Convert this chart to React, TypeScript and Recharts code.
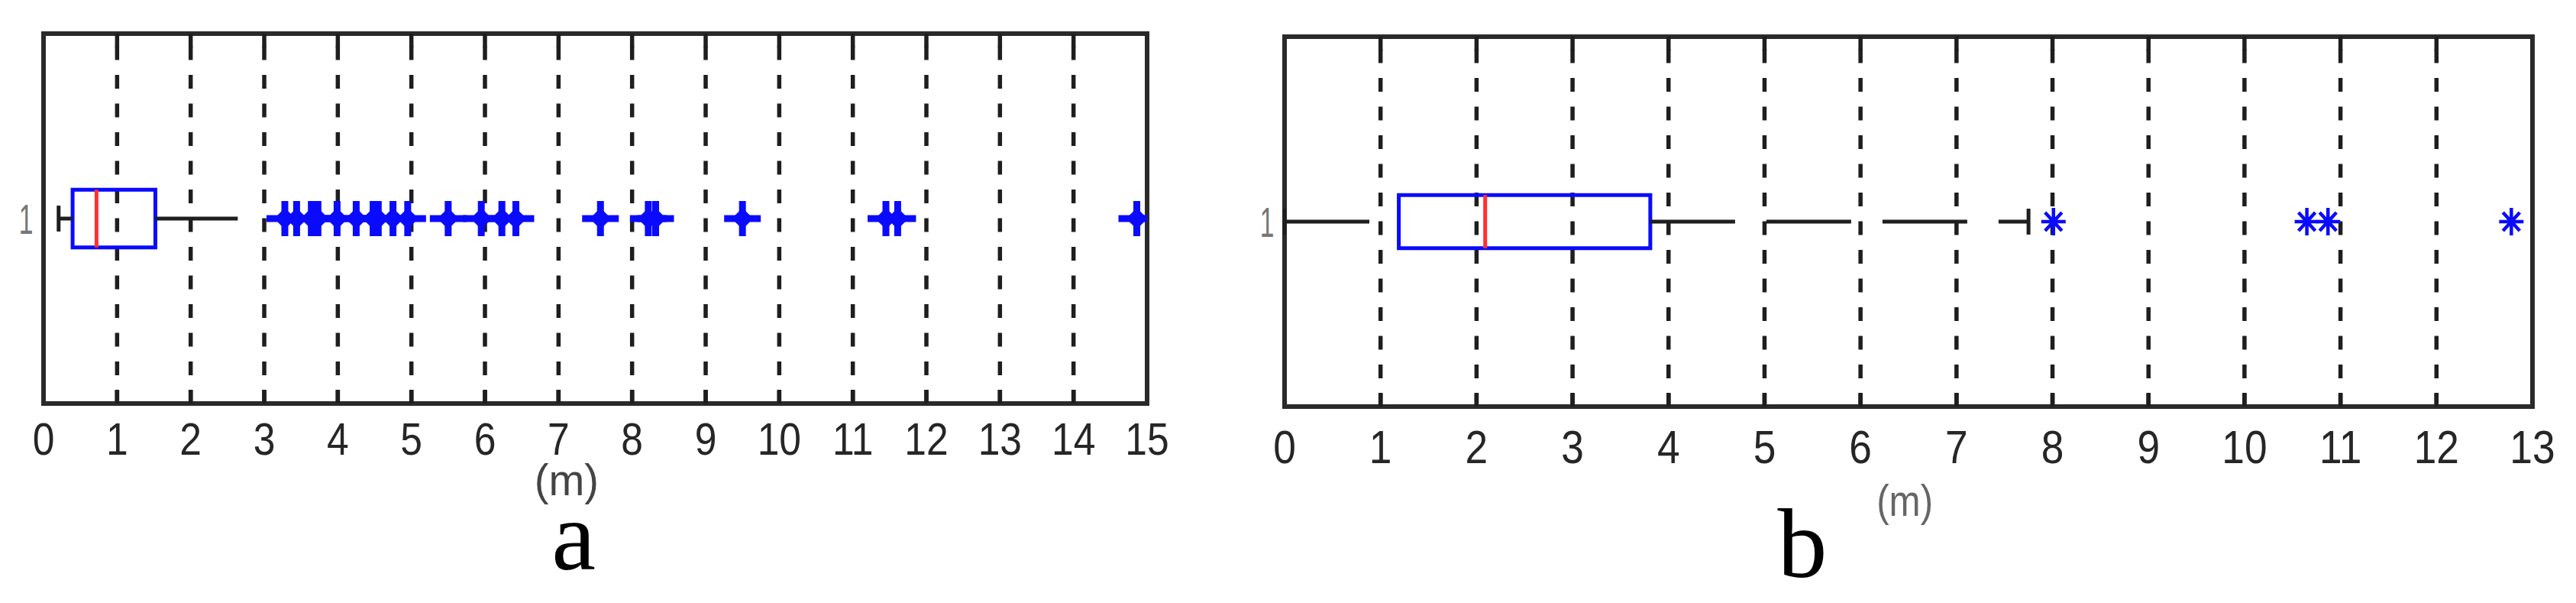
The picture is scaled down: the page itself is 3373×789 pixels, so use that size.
import React from 'react';
import {
  ComposedChart,
  Scatter,
  XAxis,
  YAxis,
  CartesianGrid,
  ReferenceArea,
  ReferenceLine,
} from 'recharts';

// x-axis ticks (metres)
const ticksA = [0, 1, 2, 3, 4, 5, 6, 7, 8, 9, 10, 11, 12, 13, 14, 15];
const ticksB = [0, 1, 2, 3, 4, 5, 6, 7, 8, 9, 10, 11, 12, 13];

// lower whisker, q1, median, q3, upper whisker
const statsA = [0.205, 0.395, 0.72, 1.52, 2.64];
const statsB = [0, 1.19, 2.09, 3.81, 7.75];

// whisker end caps that are visible
const capsA = [0.205];
const capsB = [0, 7.75];

// outliers
const outliersA = [
  3.28, 3.44, 3.64, 3.73, 3.99, 4.25, 4.48, 4.55, 4.75, 4.95,
  5.5, 5.95, 6.23, 6.42, 7.57, 8.22, 8.32, 9.5, 11.45, 11.61, 14.86,
];
const outliersB = [8.01, 10.65, 10.87, 12.78];

const rowTicks = [1];
const panelNames = ['a', 'b'];

const SANS = 'Liberation Sans, Arial, sans-serif';
const SERIF = 'Liberation Serif, Times New Roman, serif';
const BLUE = '#0a0aff';
const INK = '#1e1e1e';

const PlusMarker = (props: any) => {
  const { cx, cy } = props;
  return (
    <g>
      <path
        d={`M${cx - 24},${cy}H${cx + 24}M${cx},${cy - 23}V${cy + 23}`}
        stroke={BLUE}
        strokeWidth={9}
      />
      <path
        d={`M${cx - 14},${cy}L${cx},${cy - 14}L${cx + 14},${cy}L${cx},${cy + 14}Z`}
        fill={BLUE}
      />
    </g>
  );
};

const StarMarker = (props: any) => {
  const { cx, cy } = props;
  return (
    <path
      d={`M${cx - 16},${cy}H${cx + 16}M${cx},${cy - 18}V${cy + 18}M${cx - 11},${cy - 12}L${cx + 11},${cy + 12}M${cx - 11},${cy + 12}L${cx + 11},${cy - 12}`}
      stroke={BLUE}
      strokeWidth={4.5}
    />
  );
};

interface PanelProps {
  left: number;
  width: number;
  axisW: number;
  margin: { top: number; right: number; bottom: number; left: number };
  ticks: number[];
  stats: number[];
  caps: number[];
  outliers: number[];
  marker: (p: any) => React.ReactElement;
  boxHalf: number;
  tickDy: number;
  tickSize: number;
  unitFrac: number;
  unitDy: number;
  unitScale: number;
  unitColor: string;
}

function BoxPanel(p: PanelProps) {
  const [lo, q1, med, q3, hi] = p.stats;
  const xMax = p.ticks[p.ticks.length - 1];
  const points = p.outliers.map((v) => ({ x: v, y: 1 }));
  const plotH = 789 - p.margin.top - p.margin.bottom - 60;
  const tickLen = 18 / plotH;
  const inner = p.ticks.slice(1, -1);

  return (
    <div style={{ position: 'absolute', left: p.left, top: 0 }}>
      <ComposedChart width={p.width} height={789} margin={p.margin}>
        <CartesianGrid
          horizontal={false}
          stroke={INK}
          strokeWidth={5.5}
          strokeDasharray="18 19.5"
          strokeDashoffset={21}
        />
        <XAxis
          type="number"
          dataKey="x"
          domain={[0, xMax]}
          ticks={p.ticks}
          interval={0}
          allowDataOverflow
          axisLine={false}
          tickLine={false}
          tickSize={0}
          tickMargin={0}
          height={60}
          tick={(t: any) => (
            <g transform={`translate(${t.x},${t.y + p.tickDy}) scale(0.86,1)`}>
              <text x={0} y={0} textAnchor="middle" fontSize={p.tickSize} fontFamily={SANS} fill="#262626">
                {t.payload.value}
              </text>
            </g>
          )}
          label={{
            content: (l: any) => {
              const vb = l.viewBox || { x: 0, y: 0, width: 0 };
              const cx = vb.x + vb.width * p.unitFrac;
              return (
                <g transform={`translate(${cx},${vb.y + p.unitDy}) scale(${p.unitScale},1)`}>
                  <text x={0} y={0} textAnchor="middle" fontSize={58} fontFamily={SANS} fill={p.unitColor}>
                    (m)
                  </text>
                </g>
              );
            },
          }}
        />
        <YAxis
          type="number"
          dataKey="y"
          domain={[0.5, 1.5]}
          ticks={rowTicks}
          width={p.axisW}
          axisLine={false}
          tickLine={false}
          tickSize={0}
          tickMargin={0}
          tick={(t: any) => (
            <g transform={`translate(${t.x - 23},${t.y + 20}) scale(0.6,1)`}>
              <text x={0} y={0} textAnchor="middle" fontSize={56} fontFamily={SANS} fill="#777">
                {t.payload.value}
              </text>
            </g>
          )}
        />
        {inner.map((t) => (
          <ReferenceLine
            key={`tt${t}`}
            segment={[{ x: t, y: 1.5 }, { x: t, y: 1.5 - tickLen }]}
            stroke={INK}
            strokeWidth={5.5}
            ifOverflow="visible"
          />
        ))}
        {inner.map((t) => (
          <ReferenceLine
            key={`tb${t}`}
            segment={[{ x: t, y: 0.5 }, { x: t, y: 0.5 + tickLen }]}
            stroke={INK}
            strokeWidth={5.5}
            ifOverflow="visible"
          />
        ))}
        <ReferenceLine
          segment={[{ x: lo, y: 1 }, { x: q1, y: 1 }]}
          stroke={INK}
          strokeWidth={5}
          strokeDasharray="111 41"
          ifOverflow="visible"
        />
        <ReferenceLine
          segment={[{ x: q3, y: 1 }, { x: hi, y: 1 }]}
          stroke={INK}
          strokeWidth={5}
          strokeDasharray="111 41"
          ifOverflow="visible"
        />
        {p.caps.map((c) => (
          <ReferenceLine
            key={`cap${c}`}
            segment={[{ x: c, y: 1.035 }, { x: c, y: 0.965 }]}
            stroke={INK}
            strokeWidth={5}
            ifOverflow="visible"
          />
        ))}
        <ReferenceArea
          x1={q1}
          x2={q3}
          y1={1 - p.boxHalf}
          y2={1 + p.boxHalf}
          fill="none"
          fillOpacity={0}
          stroke={BLUE}
          strokeWidth={5}
          ifOverflow="visible"
        />
        <ReferenceLine
          segment={[{ x: med, y: 1 - p.boxHalf }, { x: med, y: 1 + p.boxHalf }]}
          stroke="#ff3030"
          strokeWidth={5}
          ifOverflow="visible"
        />
        <Scatter data={points} shape={p.marker} isAnimationActive={false} />
        <ReferenceArea
          x1={0}
          x2={xMax}
          y1={0.5}
          y2={1.5}
          fill="none"
          fillOpacity={0}
          stroke="#2a2a2a"
          strokeWidth={6}
          ifOverflow="visible"
        />
      </ComposedChart>
    </div>
  );
}

export default function App() {
  return (
    <div
      style={{
        position: 'absolute',
        left: 0,
        top: 0,
        width: 3373,
        height: 789,
        background: '#fff',
        overflow: 'hidden',
      }}
    >
      <BoxPanel
        left={0}
        width={1560}
        axisW={57}
        margin={{ top: 44, right: 58, bottom: 201, left: 0 }}
        ticks={ticksA}
        stats={statsA}
        caps={capsA}
        outliers={outliersA}
        marker={PlusMarker}
        boxHalf={0.078}
        tickDy={67}
        tickSize={60}
        unitFrac={0.474}
        unitDy={120}
        unitScale={0.97}
        unitColor="#444"
      />
      <BoxPanel
        left={1600}
        width={1773}
        axisW={82}
        margin={{ top: 48, right: 57, bottom: 197, left: 0 }}
        ticks={ticksB}
        stats={statsB}
        caps={capsB}
        outliers={outliersB}
        marker={StarMarker}
        boxHalf={0.072}
        tickDy={74}
        tickSize={62}
        unitFrac={0.497}
        unitDy={143}
        unitScale={0.85}
        unitColor="#666"
      />
      <svg
        width={3373}
        height={789}
        style={{ position: 'absolute', left: 0, top: 0, pointerEvents: 'none' }}
      >
        <text x={751} y={745} textAnchor="middle" fontSize={130} fontFamily={SERIF} fill="#000">
          {panelNames[0]}
        </text>
        <text x={2360} y={755} textAnchor="middle" fontSize={130} fontFamily={SERIF} fill="#000">
          {panelNames[1]}
        </text>
      </svg>
    </div>
  );
}
